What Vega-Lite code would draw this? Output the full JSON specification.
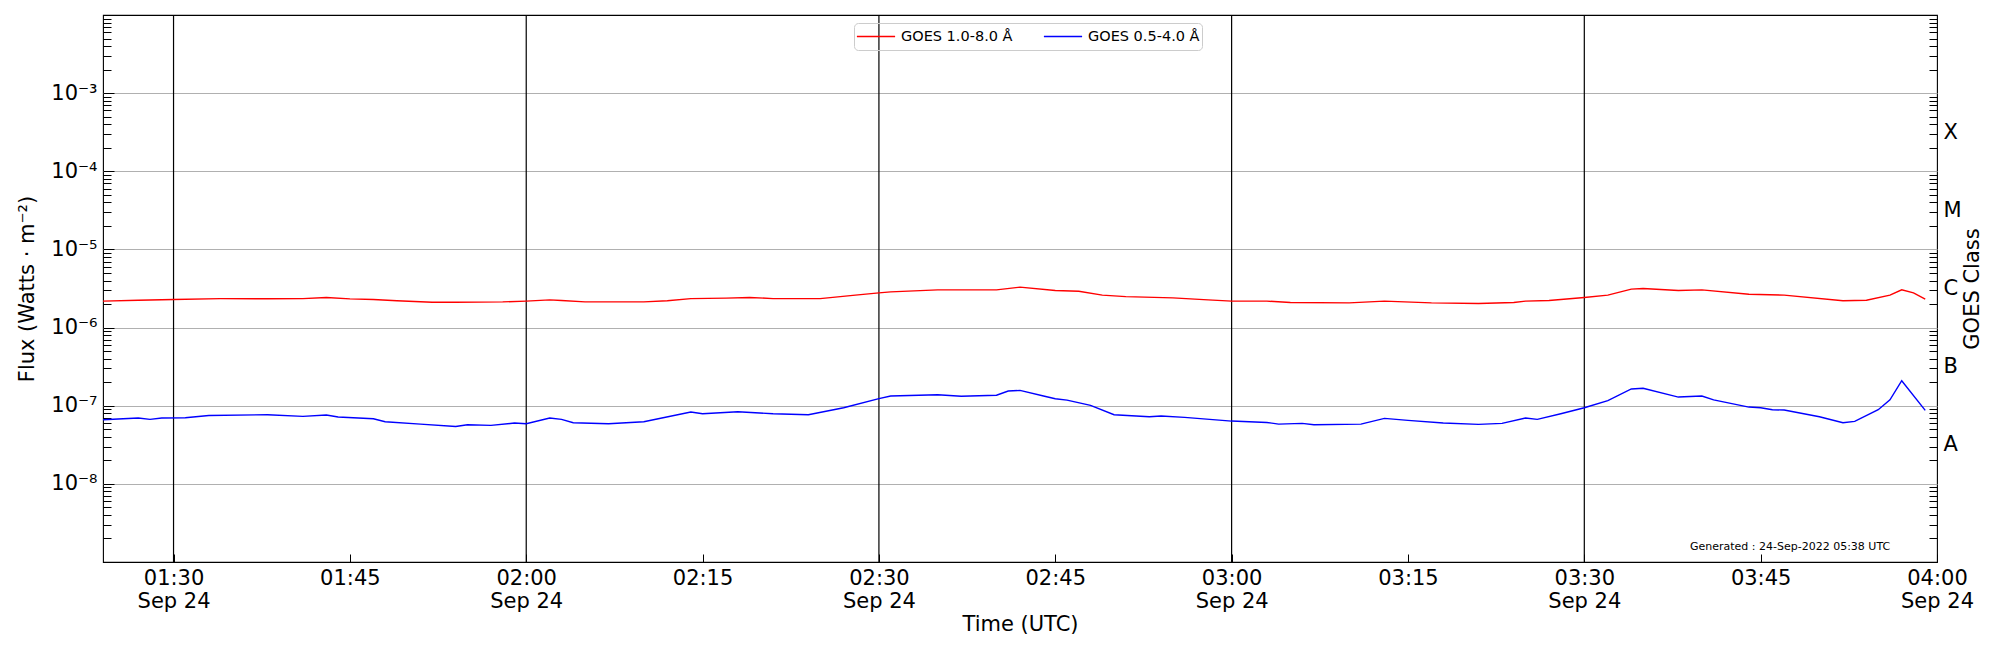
{
  "$schema": "https://vega.github.io/schema/vega-lite/v6.json",
  "description": "GOES XRS flux, 24 Sep 2022 01:24-04:00 UTC",
  "width": 1834,
  "height": 547,
  "autosize": {"type": "none"},
  "padding": {"left": 103, "top": 15, "right": 63, "bottom": 88},
  "background": "white",
  "config": {
    "font": "DejaVu Sans",
    "view": {"stroke": "black", "strokeWidth": 1.1},
    "axis": {
      "domain": false,
      "grid": false,
      "labelFont": "DejaVu Sans",
      "titleFont": "DejaVu Sans",
      "labelFontSize": 21,
      "titleFontSize": 21,
      "titleFontWeight": "normal",
      "labelColor": "black",
      "titleColor": "black",
      "tickColor": "black",
      "tickWidth": 1,
      "labelFlush": false,
      "labelOverlap": false,
      "labelBound": false
    },
    "legend": {
      "labelFont": "DejaVu Sans",
      "labelFontSize": 14.5,
      "labelColor": "black",
      "symbolSize": 1460,
      "symbolStrokeWidth": 1.5,
      "clipHeight": 23,
      "padding": 2,
      "labelOffset": 5,
      "columnPadding": 30,
      "strokeColor": "#cccccc",
      "cornerRadius": 4
    }
  },
  "datasets": {
    "flux": [
      {"time": "2022-09-24T01:24:00Z", "band": "GOES 1.0-8.0 Å", "flux": 2.18e-6},
      {"time": "2022-09-24T01:27:00Z", "band": "GOES 1.0-8.0 Å", "flux": 2.24e-6},
      {"time": "2022-09-24T01:30:00Z", "band": "GOES 1.0-8.0 Å", "flux": 2.29e-6},
      {"time": "2022-09-24T01:34:00Z", "band": "GOES 1.0-8.0 Å", "flux": 2.35e-6},
      {"time": "2022-09-24T01:38:00Z", "band": "GOES 1.0-8.0 Å", "flux": 2.34e-6},
      {"time": "2022-09-24T01:41:00Z", "band": "GOES 1.0-8.0 Å", "flux": 2.35e-6},
      {"time": "2022-09-24T01:43:00Z", "band": "GOES 1.0-8.0 Å", "flux": 2.43e-6},
      {"time": "2022-09-24T01:45:00Z", "band": "GOES 1.0-8.0 Å", "flux": 2.33e-6},
      {"time": "2022-09-24T01:47:00Z", "band": "GOES 1.0-8.0 Å", "flux": 2.29e-6},
      {"time": "2022-09-24T01:49:00Z", "band": "GOES 1.0-8.0 Å", "flux": 2.2e-6},
      {"time": "2022-09-24T01:52:00Z", "band": "GOES 1.0-8.0 Å", "flux": 2.11e-6},
      {"time": "2022-09-24T01:54:00Z", "band": "GOES 1.0-8.0 Å", "flux": 2.11e-6},
      {"time": "2022-09-24T01:58:00Z", "band": "GOES 1.0-8.0 Å", "flux": 2.13e-6},
      {"time": "2022-09-24T02:00:00Z", "band": "GOES 1.0-8.0 Å", "flux": 2.18e-6},
      {"time": "2022-09-24T02:02:00Z", "band": "GOES 1.0-8.0 Å", "flux": 2.26e-6},
      {"time": "2022-09-24T02:03:00Z", "band": "GOES 1.0-8.0 Å", "flux": 2.22e-6},
      {"time": "2022-09-24T02:05:00Z", "band": "GOES 1.0-8.0 Å", "flux": 2.13e-6},
      {"time": "2022-09-24T02:10:00Z", "band": "GOES 1.0-8.0 Å", "flux": 2.13e-6},
      {"time": "2022-09-24T02:12:00Z", "band": "GOES 1.0-8.0 Å", "flux": 2.2e-6},
      {"time": "2022-09-24T02:14:00Z", "band": "GOES 1.0-8.0 Å", "flux": 2.35e-6},
      {"time": "2022-09-24T02:17:00Z", "band": "GOES 1.0-8.0 Å", "flux": 2.38e-6},
      {"time": "2022-09-24T02:19:00Z", "band": "GOES 1.0-8.0 Å", "flux": 2.43e-6},
      {"time": "2022-09-24T02:21:00Z", "band": "GOES 1.0-8.0 Å", "flux": 2.35e-6},
      {"time": "2022-09-24T02:25:00Z", "band": "GOES 1.0-8.0 Å", "flux": 2.35e-6},
      {"time": "2022-09-24T02:28:00Z", "band": "GOES 1.0-8.0 Å", "flux": 2.6e-6},
      {"time": "2022-09-24T02:30:00Z", "band": "GOES 1.0-8.0 Å", "flux": 2.78e-6},
      {"time": "2022-09-24T02:31:00Z", "band": "GOES 1.0-8.0 Å", "flux": 2.86e-6},
      {"time": "2022-09-24T02:35:00Z", "band": "GOES 1.0-8.0 Å", "flux": 3.04e-6},
      {"time": "2022-09-24T02:40:00Z", "band": "GOES 1.0-8.0 Å", "flux": 3.04e-6},
      {"time": "2022-09-24T02:42:00Z", "band": "GOES 1.0-8.0 Å", "flux": 3.29e-6},
      {"time": "2022-09-24T02:45:00Z", "band": "GOES 1.0-8.0 Å", "flux": 2.98e-6},
      {"time": "2022-09-24T02:47:00Z", "band": "GOES 1.0-8.0 Å", "flux": 2.92e-6},
      {"time": "2022-09-24T02:49:00Z", "band": "GOES 1.0-8.0 Å", "flux": 2.6e-6},
      {"time": "2022-09-24T02:51:00Z", "band": "GOES 1.0-8.0 Å", "flux": 2.49e-6},
      {"time": "2022-09-24T02:55:00Z", "band": "GOES 1.0-8.0 Å", "flux": 2.4e-6},
      {"time": "2022-09-24T02:58:00Z", "band": "GOES 1.0-8.0 Å", "flux": 2.26e-6},
      {"time": "2022-09-24T03:00:00Z", "band": "GOES 1.0-8.0 Å", "flux": 2.18e-6},
      {"time": "2022-09-24T03:03:00Z", "band": "GOES 1.0-8.0 Å", "flux": 2.18e-6},
      {"time": "2022-09-24T03:05:00Z", "band": "GOES 1.0-8.0 Å", "flux": 2.09e-6},
      {"time": "2022-09-24T03:10:00Z", "band": "GOES 1.0-8.0 Å", "flux": 2.07e-6},
      {"time": "2022-09-24T03:13:00Z", "band": "GOES 1.0-8.0 Å", "flux": 2.18e-6},
      {"time": "2022-09-24T03:17:00Z", "band": "GOES 1.0-8.0 Å", "flux": 2.07e-6},
      {"time": "2022-09-24T03:21:00Z", "band": "GOES 1.0-8.0 Å", "flux": 2.03e-6},
      {"time": "2022-09-24T03:24:00Z", "band": "GOES 1.0-8.0 Å", "flux": 2.09e-6},
      {"time": "2022-09-24T03:25:00Z", "band": "GOES 1.0-8.0 Å", "flux": 2.18e-6},
      {"time": "2022-09-24T03:27:00Z", "band": "GOES 1.0-8.0 Å", "flux": 2.22e-6},
      {"time": "2022-09-24T03:30:00Z", "band": "GOES 1.0-8.0 Å", "flux": 2.43e-6},
      {"time": "2022-09-24T03:32:00Z", "band": "GOES 1.0-8.0 Å", "flux": 2.6e-6},
      {"time": "2022-09-24T03:34:00Z", "band": "GOES 1.0-8.0 Å", "flux": 3.1e-6},
      {"time": "2022-09-24T03:35:00Z", "band": "GOES 1.0-8.0 Å", "flux": 3.16e-6},
      {"time": "2022-09-24T03:38:00Z", "band": "GOES 1.0-8.0 Å", "flux": 2.98e-6},
      {"time": "2022-09-24T03:40:00Z", "band": "GOES 1.0-8.0 Å", "flux": 3.04e-6},
      {"time": "2022-09-24T03:44:00Z", "band": "GOES 1.0-8.0 Å", "flux": 2.67e-6},
      {"time": "2022-09-24T03:47:00Z", "band": "GOES 1.0-8.0 Å", "flux": 2.6e-6},
      {"time": "2022-09-24T03:52:00Z", "band": "GOES 1.0-8.0 Å", "flux": 2.2e-6},
      {"time": "2022-09-24T03:54:00Z", "band": "GOES 1.0-8.0 Å", "flux": 2.24e-6},
      {"time": "2022-09-24T03:56:00Z", "band": "GOES 1.0-8.0 Å", "flux": 2.6e-6},
      {"time": "2022-09-24T03:57:00Z", "band": "GOES 1.0-8.0 Å", "flux": 3.04e-6},
      {"time": "2022-09-24T03:58:00Z", "band": "GOES 1.0-8.0 Å", "flux": 2.78e-6},
      {"time": "2022-09-24T03:59:00Z", "band": "GOES 1.0-8.0 Å", "flux": 2.31e-6},
      {"time": "2022-09-24T01:24:00Z", "band": "GOES 0.5-4.0 Å", "flux": 6.61e-8},
      {"time": "2022-09-24T01:27:00Z", "band": "GOES 0.5-4.0 Å", "flux": 6.95e-8},
      {"time": "2022-09-24T01:28:00Z", "band": "GOES 0.5-4.0 Å", "flux": 6.68e-8},
      {"time": "2022-09-24T01:29:00Z", "band": "GOES 0.5-4.0 Å", "flux": 6.95e-8},
      {"time": "2022-09-24T01:31:00Z", "band": "GOES 0.5-4.0 Å", "flux": 7.02e-8},
      {"time": "2022-09-24T01:33:00Z", "band": "GOES 0.5-4.0 Å", "flux": 7.51e-8},
      {"time": "2022-09-24T01:38:00Z", "band": "GOES 0.5-4.0 Å", "flux": 7.67e-8},
      {"time": "2022-09-24T01:41:00Z", "band": "GOES 0.5-4.0 Å", "flux": 7.3e-8},
      {"time": "2022-09-24T01:43:00Z", "band": "GOES 0.5-4.0 Å", "flux": 7.59e-8},
      {"time": "2022-09-24T01:44:00Z", "band": "GOES 0.5-4.0 Å", "flux": 7.16e-8},
      {"time": "2022-09-24T01:47:00Z", "band": "GOES 0.5-4.0 Å", "flux": 6.81e-8},
      {"time": "2022-09-24T01:48:00Z", "band": "GOES 0.5-4.0 Å", "flux": 6.24e-8},
      {"time": "2022-09-24T01:51:00Z", "band": "GOES 0.5-4.0 Å", "flux": 5.82e-8},
      {"time": "2022-09-24T01:54:00Z", "band": "GOES 0.5-4.0 Å", "flux": 5.43e-8},
      {"time": "2022-09-24T01:55:00Z", "band": "GOES 0.5-4.0 Å", "flux": 5.7e-8},
      {"time": "2022-09-24T01:57:00Z", "band": "GOES 0.5-4.0 Å", "flux": 5.6e-8},
      {"time": "2022-09-24T01:59:00Z", "band": "GOES 0.5-4.0 Å", "flux": 6.0e-8},
      {"time": "2022-09-24T02:00:00Z", "band": "GOES 0.5-4.0 Å", "flux": 5.88e-8},
      {"time": "2022-09-24T02:02:00Z", "band": "GOES 0.5-4.0 Å", "flux": 6.95e-8},
      {"time": "2022-09-24T02:03:00Z", "band": "GOES 0.5-4.0 Å", "flux": 6.68e-8},
      {"time": "2022-09-24T02:04:00Z", "band": "GOES 0.5-4.0 Å", "flux": 6.05e-8},
      {"time": "2022-09-24T02:07:00Z", "band": "GOES 0.5-4.0 Å", "flux": 5.88e-8},
      {"time": "2022-09-24T02:10:00Z", "band": "GOES 0.5-4.0 Å", "flux": 6.24e-8},
      {"time": "2022-09-24T02:14:00Z", "band": "GOES 0.5-4.0 Å", "flux": 8.3e-8},
      {"time": "2022-09-24T02:15:00Z", "band": "GOES 0.5-4.0 Å", "flux": 7.89e-8},
      {"time": "2022-09-24T02:18:00Z", "band": "GOES 0.5-4.0 Å", "flux": 8.38e-8},
      {"time": "2022-09-24T02:21:00Z", "band": "GOES 0.5-4.0 Å", "flux": 7.89e-8},
      {"time": "2022-09-24T02:24:00Z", "band": "GOES 0.5-4.0 Å", "flux": 7.67e-8},
      {"time": "2022-09-24T02:27:00Z", "band": "GOES 0.5-4.0 Å", "flux": 9.42e-8},
      {"time": "2022-09-24T02:30:00Z", "band": "GOES 0.5-4.0 Å", "flux": 1.23e-7},
      {"time": "2022-09-24T02:31:00Z", "band": "GOES 0.5-4.0 Å", "flux": 1.33e-7},
      {"time": "2022-09-24T02:35:00Z", "band": "GOES 0.5-4.0 Å", "flux": 1.38e-7},
      {"time": "2022-09-24T02:37:00Z", "band": "GOES 0.5-4.0 Å", "flux": 1.32e-7},
      {"time": "2022-09-24T02:40:00Z", "band": "GOES 0.5-4.0 Å", "flux": 1.36e-7},
      {"time": "2022-09-24T02:41:00Z", "band": "GOES 0.5-4.0 Å", "flux": 1.54e-7},
      {"time": "2022-09-24T02:42:00Z", "band": "GOES 0.5-4.0 Å", "flux": 1.57e-7},
      {"time": "2022-09-24T02:44:00Z", "band": "GOES 0.5-4.0 Å", "flux": 1.33e-7},
      {"time": "2022-09-24T02:45:00Z", "band": "GOES 0.5-4.0 Å", "flux": 1.23e-7},
      {"time": "2022-09-24T02:46:00Z", "band": "GOES 0.5-4.0 Å", "flux": 1.18e-7},
      {"time": "2022-09-24T02:48:00Z", "band": "GOES 0.5-4.0 Å", "flux": 1.01e-7},
      {"time": "2022-09-24T02:50:00Z", "band": "GOES 0.5-4.0 Å", "flux": 7.67e-8},
      {"time": "2022-09-24T02:53:00Z", "band": "GOES 0.5-4.0 Å", "flux": 7.23e-8},
      {"time": "2022-09-24T02:54:00Z", "band": "GOES 0.5-4.0 Å", "flux": 7.37e-8},
      {"time": "2022-09-24T02:56:00Z", "band": "GOES 0.5-4.0 Å", "flux": 7.09e-8},
      {"time": "2022-09-24T03:00:00Z", "band": "GOES 0.5-4.0 Å", "flux": 6.36e-8},
      {"time": "2022-09-24T03:03:00Z", "band": "GOES 0.5-4.0 Å", "flux": 6.11e-8},
      {"time": "2022-09-24T03:04:00Z", "band": "GOES 0.5-4.0 Å", "flux": 5.82e-8},
      {"time": "2022-09-24T03:06:00Z", "band": "GOES 0.5-4.0 Å", "flux": 5.94e-8},
      {"time": "2022-09-24T03:07:00Z", "band": "GOES 0.5-4.0 Å", "flux": 5.7e-8},
      {"time": "2022-09-24T03:11:00Z", "band": "GOES 0.5-4.0 Å", "flux": 5.82e-8},
      {"time": "2022-09-24T03:13:00Z", "band": "GOES 0.5-4.0 Å", "flux": 6.89e-8},
      {"time": "2022-09-24T03:15:00Z", "band": "GOES 0.5-4.0 Å", "flux": 6.49e-8},
      {"time": "2022-09-24T03:18:00Z", "band": "GOES 0.5-4.0 Å", "flux": 6.0e-8},
      {"time": "2022-09-24T03:21:00Z", "band": "GOES 0.5-4.0 Å", "flux": 5.77e-8},
      {"time": "2022-09-24T03:23:00Z", "band": "GOES 0.5-4.0 Å", "flux": 5.94e-8},
      {"time": "2022-09-24T03:25:00Z", "band": "GOES 0.5-4.0 Å", "flux": 6.95e-8},
      {"time": "2022-09-24T03:26:00Z", "band": "GOES 0.5-4.0 Å", "flux": 6.68e-8},
      {"time": "2022-09-24T03:28:00Z", "band": "GOES 0.5-4.0 Å", "flux": 7.89e-8},
      {"time": "2022-09-24T03:30:00Z", "band": "GOES 0.5-4.0 Å", "flux": 9.42e-8},
      {"time": "2022-09-24T03:32:00Z", "band": "GOES 0.5-4.0 Å", "flux": 1.16e-7},
      {"time": "2022-09-24T03:34:00Z", "band": "GOES 0.5-4.0 Å", "flux": 1.64e-7},
      {"time": "2022-09-24T03:35:00Z", "band": "GOES 0.5-4.0 Å", "flux": 1.67e-7},
      {"time": "2022-09-24T03:38:00Z", "band": "GOES 0.5-4.0 Å", "flux": 1.29e-7},
      {"time": "2022-09-24T03:40:00Z", "band": "GOES 0.5-4.0 Å", "flux": 1.33e-7},
      {"time": "2022-09-24T03:41:00Z", "band": "GOES 0.5-4.0 Å", "flux": 1.19e-7},
      {"time": "2022-09-24T03:44:00Z", "band": "GOES 0.5-4.0 Å", "flux": 9.61e-8},
      {"time": "2022-09-24T03:45:00Z", "band": "GOES 0.5-4.0 Å", "flux": 9.42e-8},
      {"time": "2022-09-24T03:46:00Z", "band": "GOES 0.5-4.0 Å", "flux": 8.89e-8},
      {"time": "2022-09-24T03:47:00Z", "band": "GOES 0.5-4.0 Å", "flux": 8.8e-8},
      {"time": "2022-09-24T03:50:00Z", "band": "GOES 0.5-4.0 Å", "flux": 7.23e-8},
      {"time": "2022-09-24T03:52:00Z", "band": "GOES 0.5-4.0 Å", "flux": 6.05e-8},
      {"time": "2022-09-24T03:53:00Z", "band": "GOES 0.5-4.0 Å", "flux": 6.3e-8},
      {"time": "2022-09-24T03:55:00Z", "band": "GOES 0.5-4.0 Å", "flux": 8.89e-8},
      {"time": "2022-09-24T03:56:00Z", "band": "GOES 0.5-4.0 Å", "flux": 1.19e-7},
      {"time": "2022-09-24T03:57:00Z", "band": "GOES 0.5-4.0 Å", "flux": 2.09e-7},
      {"time": "2022-09-24T03:59:00Z", "band": "GOES 0.5-4.0 Å", "flux": 8.71e-8}
    ],
    "halfHours": [
      {"time": "2022-09-24T01:30:00Z"},
      {"time": "2022-09-24T02:00:00Z"},
      {"time": "2022-09-24T02:30:00Z"},
      {"time": "2022-09-24T03:00:00Z"},
      {"time": "2022-09-24T03:30:00Z"}
    ],
    "stamp": [
      {"label": "Generated : 24-Sep-2022 05:38 UTC"}
    ]
  },
  "data": {"name": "flux"},
  "resolve": {"scale": {"y": "independent"}, "axis": {"y": "independent"}},
  "layer": [
    {
      "data": {"name": "halfHours"},
      "mark": {"type": "rule", "color": "black", "strokeWidth": 1.2},
      "encoding": {
        "x": {
          "field": "time",
          "type": "temporal",
          "scale": {
            "type": "utc",
            "domain": [
              {"year": 2022, "month": 9, "date": 24, "hours": 1, "minutes": 24, "utc": true},
              {"year": 2022, "month": 9, "date": 24, "hours": 4, "minutes": 0, "utc": true}
            ]
          }
        }
      }
    },
    {
      "mark": {"type": "line", "strokeWidth": 1.4},
      "encoding": {
        "x": {
          "field": "time",
          "type": "temporal",
          "scale": {
            "type": "utc",
            "domain": [
              {"year": 2022, "month": 9, "date": 24, "hours": 1, "minutes": 24, "utc": true},
              {"year": 2022, "month": 9, "date": 24, "hours": 4, "minutes": 0, "utc": true}
            ]
          },
          "axis": {
            "orient": "bottom",
            "title": "Time (UTC)",
            "values": [
              {"year": 2022, "month": 9, "date": 24, "hours": 1, "minutes": 30, "utc": true},
              {"year": 2022, "month": 9, "date": 24, "hours": 1, "minutes": 45, "utc": true},
              {"year": 2022, "month": 9, "date": 24, "hours": 2, "minutes": 0, "utc": true},
              {"year": 2022, "month": 9, "date": 24, "hours": 2, "minutes": 15, "utc": true},
              {"year": 2022, "month": 9, "date": 24, "hours": 2, "minutes": 30, "utc": true},
              {"year": 2022, "month": 9, "date": 24, "hours": 2, "minutes": 45, "utc": true},
              {"year": 2022, "month": 9, "date": 24, "hours": 3, "minutes": 0, "utc": true},
              {"year": 2022, "month": 9, "date": 24, "hours": 3, "minutes": 15, "utc": true},
              {"year": 2022, "month": 9, "date": 24, "hours": 3, "minutes": 30, "utc": true},
              {"year": 2022, "month": 9, "date": 24, "hours": 3, "minutes": 45, "utc": true},
              {"year": 2022, "month": 9, "date": 24, "hours": 4, "minutes": 0, "utc": true}
            ],
            "labelExpr": "utcminutes(datum.value) % 30 == 0 ? [utcFormat(datum.value, '%H:%M'), utcFormat(datum.value, '%b %d')] : utcFormat(datum.value, '%H:%M')",
            "labelLineHeight": 23,
            "tickSize": -8,
            "labelPadding": 13,
            "titlePadding": 2
          }
        },
        "y": {
          "field": "flux",
          "type": "quantitative",
          "scale": {"type": "log", "domain": [1e-9, 1e-2], "nice": false},
          "axis": {
            "orient": "left",
            "title": "Flux (Watts · m⁻²)",
            "values": [1e-8, 1e-7, 1e-6, 1e-5, 1e-4, 1e-3],
            "labelExpr": "'10⁻' + substring('⁰¹²³⁴⁵⁶⁷⁸⁹', -round(log(datum.value) / LN10), -round(log(datum.value) / LN10) + 1)",
            "tickSize": -11,
            "labelPadding": 17,
            "grid": true,
            "gridColor": "#b0b0b0",
            "gridWidth": 1,
            "titlePadding": 13
          }
        },
        "color": {
          "field": "band",
          "type": "nominal",
          "scale": {"domain": ["GOES 1.0-8.0 Å", "GOES 0.5-4.0 Å"], "range": ["#ff0000", "#0000ff"]},
          "legend": {
            "title": null,
            "orient": "none",
            "direction": "horizontal",
            "legendX": 751,
            "legendY": 8
          }
        }
      }
    },
    {
      "mark": {"type": "line", "opacity": 0},
      "encoding": {
        "x": {
          "field": "time",
          "type": "temporal",
          "scale": {
            "type": "utc",
            "domain": [
              {"year": 2022, "month": 9, "date": 24, "hours": 1, "minutes": 24, "utc": true},
              {"year": 2022, "month": 9, "date": 24, "hours": 4, "minutes": 0, "utc": true}
            ]
          }
        },
        "y": {
          "field": "flux",
          "type": "quantitative",
          "scale": {"type": "log", "domain": [1e-9, 1e-2], "nice": false},
          "axis": {
            "orient": "left",
            "title": null,
            "labels": false,
            "grid": false,
            "tickSize": -8,
            "values": [2e-9, 3e-9, 4e-9, 5e-9, 6e-9, 7e-9, 8e-9, 9e-9, 2e-8, 3e-8, 4e-8, 5e-8, 6e-8, 7e-8, 8e-8, 9e-8, 2e-7, 3e-7, 4e-7, 5e-7, 6e-7, 7e-7, 8e-7, 9e-7, 2e-6, 3e-6, 4e-6, 5e-6, 6e-6, 7e-6, 8e-6, 9e-6, 2e-5, 3e-5, 4e-5, 5e-5, 6e-5, 7e-5, 8e-5, 9e-5, 2e-4, 3e-4, 4e-4, 5e-4, 6e-4, 7e-4, 8e-4, 9e-4, 2e-3, 3e-3, 4e-3, 5e-3, 6e-3, 7e-3, 8e-3, 9e-3]
          }
        }
      }
    },
    {
      "mark": {"type": "line", "opacity": 0},
      "encoding": {
        "x": {
          "field": "time",
          "type": "temporal",
          "scale": {
            "type": "utc",
            "domain": [
              {"year": 2022, "month": 9, "date": 24, "hours": 1, "minutes": 24, "utc": true},
              {"year": 2022, "month": 9, "date": 24, "hours": 4, "minutes": 0, "utc": true}
            ]
          }
        },
        "y": {
          "field": "flux",
          "type": "quantitative",
          "scale": {"type": "log", "domain": [1e-9, 1e-2], "nice": false},
          "axis": {
            "orient": "right",
            "title": null,
            "labels": false,
            "grid": false,
            "tickSize": -8,
            "values": [2e-9, 3e-9, 4e-9, 5e-9, 6e-9, 7e-9, 8e-9, 9e-9, 2e-8, 3e-8, 4e-8, 5e-8, 6e-8, 7e-8, 8e-8, 9e-8, 2e-7, 3e-7, 4e-7, 5e-7, 6e-7, 7e-7, 8e-7, 9e-7, 2e-6, 3e-6, 4e-6, 5e-6, 6e-6, 7e-6, 8e-6, 9e-6, 2e-5, 3e-5, 4e-5, 5e-5, 6e-5, 7e-5, 8e-5, 9e-5, 2e-4, 3e-4, 4e-4, 5e-4, 6e-4, 7e-4, 8e-4, 9e-4, 2e-3, 3e-3, 4e-3, 5e-3, 6e-3, 7e-3, 8e-3, 9e-3]
          }
        }
      }
    },
    {
      "mark": {"type": "line", "opacity": 0},
      "encoding": {
        "x": {
          "field": "time",
          "type": "temporal",
          "scale": {
            "type": "utc",
            "domain": [
              {"year": 2022, "month": 9, "date": 24, "hours": 1, "minutes": 24, "utc": true},
              {"year": 2022, "month": 9, "date": 24, "hours": 4, "minutes": 0, "utc": true}
            ]
          }
        },
        "y": {
          "field": "flux",
          "type": "quantitative",
          "scale": {"type": "log", "domain": [1e-9, 1e-2], "nice": false},
          "axis": {
            "orient": "right",
            "title": "GOES Class",
            "titleAngle": 270,
            "titleBaseline": "top",
            "titlePadding": 0,
            "ticks": false,
            "tickSize": 0,
            "grid": false,
            "labelPadding": 6,
            "values": [3.1622777e-8, 3.1622777e-7, 3.1622777e-6, 3.1622777e-5, 3.1622777e-4],
            "labelExpr": "substring('ABCMX', round(log(datum.value) / LN10 + 7.5), round(log(datum.value) / LN10 + 7.5) + 1)"
          }
        }
      }
    },
    {
      "data": {"name": "stamp"},
      "mark": {"type": "text", "font": "DejaVu Sans", "fontSize": 11, "color": "black", "align": "center", "baseline": "middle"},
      "encoding": {
        "x": {"datum": {"year": 2022, "month": 9, "date": 24, "hours": 3, "minutes": 47, "seconds": 30, "utc": true}, "type": "temporal"},
        "y": {"datum": 1.55e-9, "type": "quantitative", "scale": {"type": "log", "domain": [1e-9, 1e-2], "nice": false}, "axis": null},
        "text": {"field": "label"}
      }
    }
  ]
}
